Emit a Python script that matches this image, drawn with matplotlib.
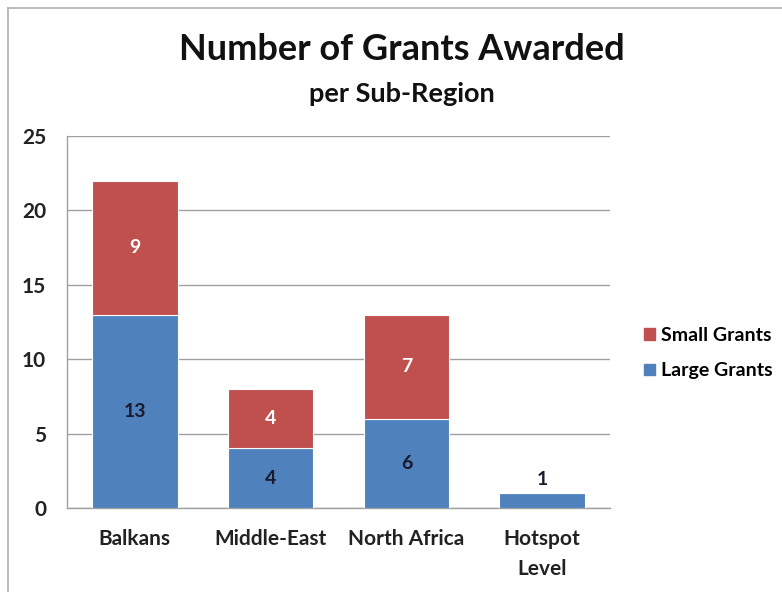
import matplotlib
matplotlib.use("Agg")
import matplotlib.pyplot as plt
from matplotlib.lines import Line2D
from matplotlib.patches import Patch

categories = ["Balkans", "Middle-East", "North Africa", "Hotspot\nLevel"]
large_grants = [13, 4, 6, 1]
small_grants = [9, 4, 7, 0]
yticks = [0, 5, 10, 15, 20, 25]

RED = "#C0504D"
BLUE = "#4F81BD"
FONT = ["Lato", "DejaVu Sans"]
plt.rcParams["font.family"] = FONT

fig = plt.figure(figsize=(7.82, 5.92), dpi=100)
ax = fig.add_axes([67/782, 1-508/592, (610-67)/782, (508-136)/592])

x = list(range(len(categories)))
w = 0.63
ax.bar(x, large_grants, width=w, color=BLUE, edgecolor="white", linewidth=0.8, zorder=3)
ax.bar(x, small_grants, width=w, bottom=large_grants, color=RED, edgecolor="white", linewidth=0.8, zorder=3)

LBL = 14
for i, (l, s) in enumerate(zip(large_grants, small_grants)):
    if l >= 3:
        ax.text(i, l/2, str(l), ha="center", va="center", fontsize=LBL, fontweight="bold", color="#1a1a2e", zorder=4)
    else:
        ax.text(i, l + 0.35, str(l), ha="center", va="bottom", fontsize=LBL, fontweight="bold", color="#1a1a2e", zorder=4)
    if s > 0:
        ax.text(i, l + s/2, str(s), ha="center", va="center", fontsize=LBL, fontweight="bold", color="white", zorder=4)

ax.set_xlim(-0.5, len(categories) - 0.5)
ax.set_ylim(0, 25)
ax.set_yticks(yticks)
ax.set_yticklabels([str(t) for t in yticks], fontsize=15, fontweight="bold", color="#222222")
ax.set_xticks(x)
ax.set_xticklabels(categories, fontsize=15, fontweight="bold", color="#222222", linespacing=1.65)
ax.tick_params(axis="both", length=0)
ax.tick_params(axis="y", pad=15)
ax.tick_params(axis="x", pad=15)
ax.yaxis.grid(True, color="#a0a0a0", linewidth=1.0, zorder=0)
ax.set_axisbelow(True)
for s in ["top", "right"]:
    ax.spines[s].set_visible(False)
for s in ["left", "bottom"]:
    ax.spines[s].set_color("#a0a0a0")
    ax.spines[s].set_linewidth(1.0)

fig.text(402/782, 1-50/592, "Number of Grants Awarded", ha="center", va="center", fontsize=26, fontweight="bold", color="#111111")
fig.text(402/782, 1-94/592, "per Sub-Region", ha="center", va="center", fontsize=19.5, fontweight="bold", color="#111111")

handles = [Patch(color=RED, label="Small Grants"), Patch(color=BLUE, label="Large Grants")]
fig.legend(handles=handles, loc="center left", bbox_to_anchor=(644/782, 1-353/592), frameon=False,
           handlelength=0.55, handleheight=0.55, handletextpad=0.3, labelspacing=0.95,
           borderpad=0, borderaxespad=0,
           prop={"family": FONT, "size": 14, "weight": "bold"})

fig.add_artist(Line2D([8/782, 8/782], [0, 1-8/592], transform=fig.transFigure, color="#b0b0b0", linewidth=1.2))
fig.add_artist(Line2D([8/782, 1], [1-8/592, 1-8/592], transform=fig.transFigure, color="#b0b0b0", linewidth=1.2))

fig.savefig("out.png", dpi=100)
